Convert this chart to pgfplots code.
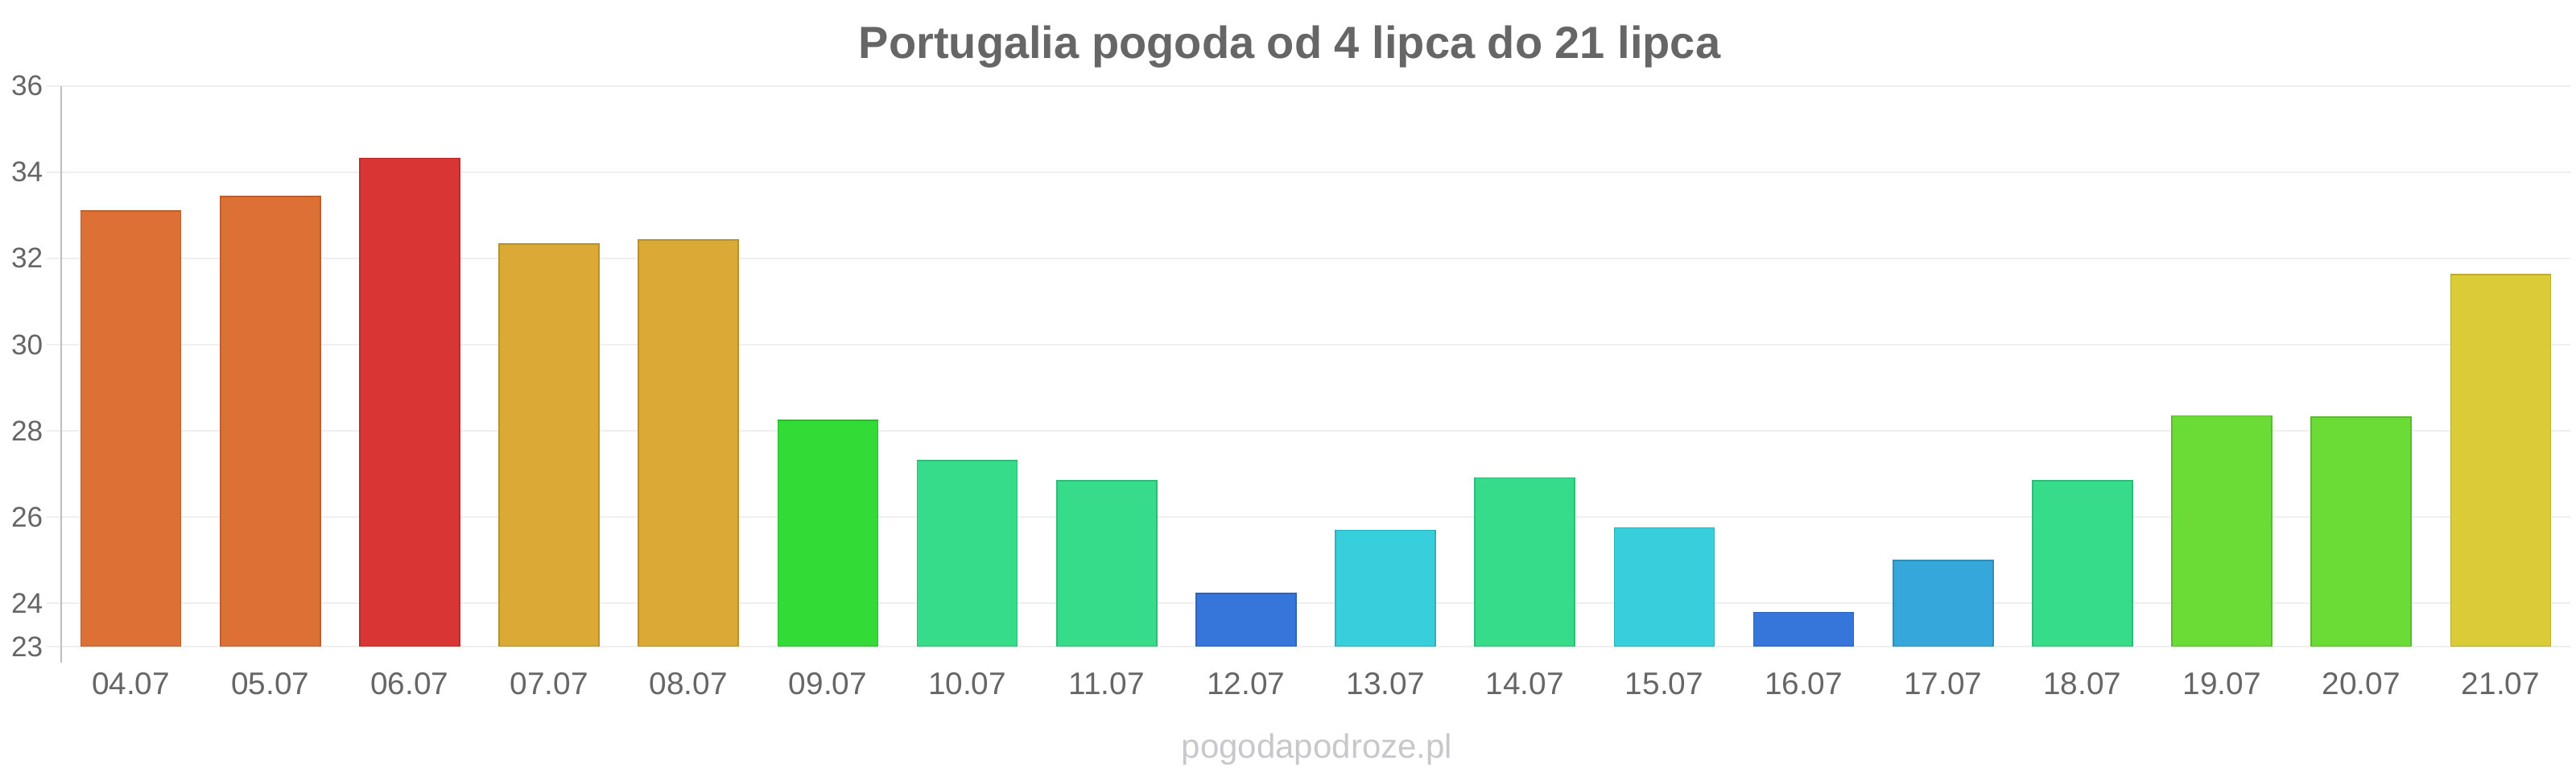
\documentclass[border=0pt]{standalone}
\usepackage{pgfplots}
\pgfplotsset{compat=1.18}
\usepackage{fontspec}
\setmainfont{Liberation Sans}

\definecolor{txt}{HTML}{666666}
\definecolor{grd}{HTML}{EFEFEF}
\definecolor{axl}{HTML}{BEBEBE}
\definecolor{wm}{HTML}{C8C8CC}
\definecolor{cOr}{HTML}{DD7034}
\definecolor{cRd}{HTML}{DA3535}
\definecolor{cMu}{HTML}{DBA935}
\definecolor{cGr}{HTML}{33DB36}
\definecolor{cSf}{HTML}{36DC8A}
\definecolor{cBl}{HTML}{3676DB}
\definecolor{cCy}{HTML}{36CFDB}
\definecolor{cLb}{HTML}{36A7DB}
\definecolor{cLg}{HTML}{6BDB36}
\definecolor{cYe}{HTML}{DBCB36}

% one bar per day: position, temperature, colour
\newcommand\daybar[3]{\addplot[fill=#3, draw=#3!85!black, line width=0.4pt] coordinates {(#1,#2)};}

\begin{document}
\begin{tikzpicture}
\useasboundingbox (0,0) rectangle (800pt,240pt);
\begin{axis}[
  at={(19pt,39.25pt)}, anchor=south west,
  width=779.25pt, height=174.1pt, scale only axis,
  xmin=-0.5, xmax=17.5, ymin=23, ymax=36,
  ytick={23,24,26,28,30,32,34,36},
  xtick={0,...,17},
  xticklabels={04.07,05.07,06.07,07.07,08.07,09.07,10.07,11.07,12.07,13.07,14.07,15.07,16.07,17.07,18.07,19.07,20.07,21.07},
  ybar, bar width=31pt, bar shift=0pt,
  axis lines*=left,
  x axis line style={draw=none},
  y axis line style={draw=axl, line width=0.6pt, shorten <=-5pt},
  ymajorgrids, grid style={draw=grd, line width=0.5pt},
  tick align=outside, major tick length=4.5pt,
  ytick style={draw=grd, line width=0.5pt},
  xtick style={draw=none},
  /pgf/number format/assume math mode=true,
  yticklabel style={font=\fontsize{8.8}{10}\selectfont, text=txt, inner sep=1pt},
  xticklabel style={font=\fontsize{9.7}{11}\selectfont, text=txt},
]
\daybar{0}{33.10}{cOr}
\daybar{1}{33.44}{cOr}
\daybar{2}{34.32}{cRd}
\daybar{3}{32.33}{cMu}
\daybar{4}{32.43}{cMu}
\daybar{5}{28.24}{cGr}
\daybar{6}{27.31}{cSf}
\daybar{7}{26.84}{cSf}
\daybar{8}{24.23}{cBl}
\daybar{9}{25.70}{cCy}
\daybar{10}{26.91}{cSf}
\daybar{11}{25.75}{cCy}
\daybar{12}{23.79}{cBl}
\daybar{13}{25.00}{cLb}
\daybar{14}{26.85}{cSf}
\daybar{15}{28.35}{cLg}
\daybar{16}{28.32}{cLg}
\daybar{17}{31.62}{cYe}
\end{axis}
\node[anchor=base, font=\bfseries\fontsize{14}{16}\selectfont, text=txt] at (400.5pt,221.8pt) {Portugalia pogoda od 4 lipca do 21 lipca};
\node[anchor=base, font=\fontsize{10.5}{12}\selectfont, text=wm] at (409pt,4.6pt) {pogodapodroze.pl};
\end{tikzpicture}
\end{document}
